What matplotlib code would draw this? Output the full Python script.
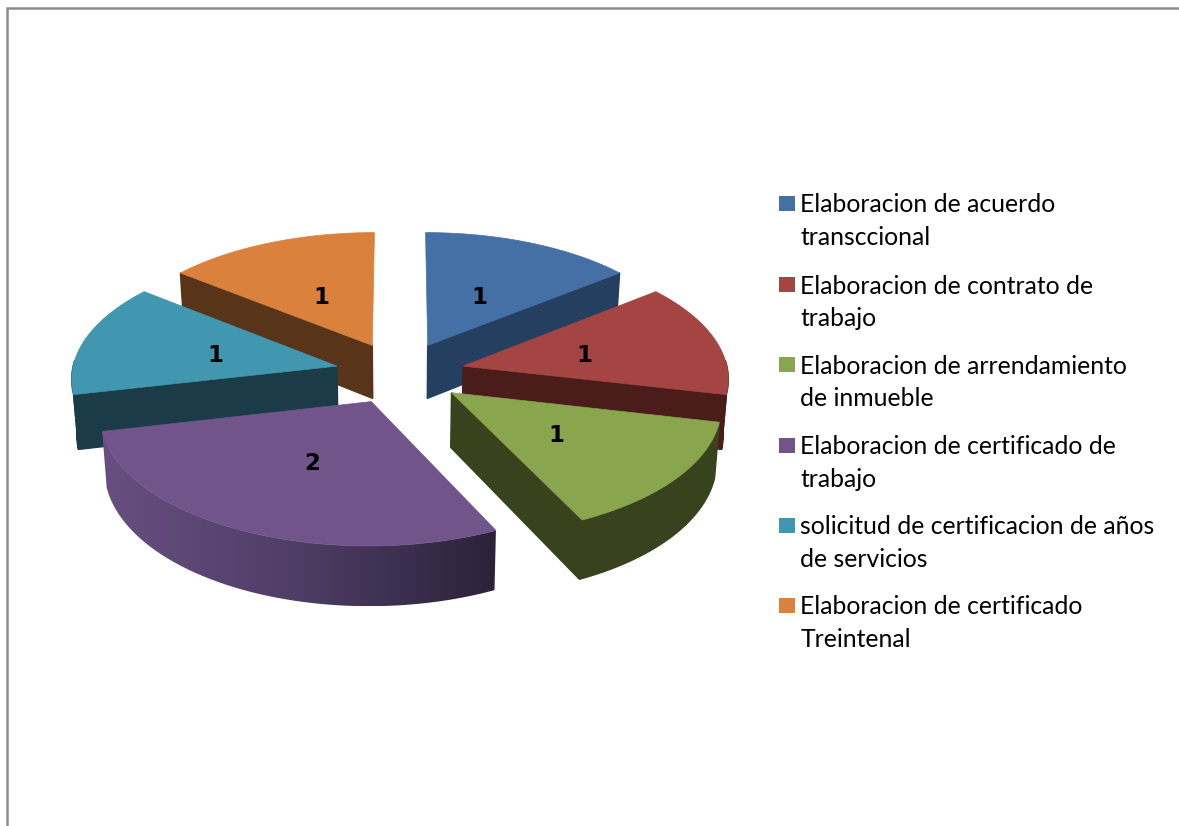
import numpy as np
import matplotlib
matplotlib.use("Agg")
import matplotlib.pyplot as plt
from matplotlib.colors import LinearSegmentedColormap
from matplotlib.patches import Polygon

categories = [
    "Elaboracion de acuerdo\ntransccional",
    "Elaboracion de contrato de\ntrabajo",
    "Elaboracion de arrendamiento\nde inmueble",
    "Elaboracion de certificado de\ntrabajo",
    "solicitud de certificacion de años\nde servicios",
    "Elaboracion de certificado\nTreintenal",
]
values = [1, 1, 1, 2, 1, 1]
top_colors = ["#4470A5", "#A54543", "#89A54E", "#71558A", "#4197AF", "#D9813D"]
side_colors = ["#243F5F", "#4A1C1A", "#38431D", "#3F3056", "#1A3B47", "#583418"]
cut_faces = ["end", "end", "end", None, "start", "start"]
rim_gradient = {3: ["#684F80", "#4E3D66", "#2C2239"]}
draw_order = [0, 5, 1, 4, 2, 3]

W, H = 1179, 826
CX, CY = 400, 373
R, EXPLODE, TILT, PERSP, DEPTH, SHRINK = 265, 65, 0.479, 0.085, 54, 0.985

fig = plt.figure(figsize=(W / 100, H / 100), dpi=100, facecolor="white")
ax = fig.add_axes([0, 0, 1, 1])


def project(r, theta, mid, bottom=False):
    X = r * np.sin(theta) + EXPLODE * np.sin(mid)
    Z = r * np.cos(theta) + EXPLODE * np.cos(mid)
    s = 1 / (1 + PERSP * Z / R)
    x = X * s * (SHRINK if bottom else 1)
    y = -TILT * Z * s + (DEPTH * s if bottom else 0)
    return CX + x, CY + y


edges = np.concatenate([[0], np.cumsum(values)]) / np.sum(values) * 2 * np.pi

for i in draw_order:
    a0, a1 = edges[i], edges[i + 1]
    mid = (a0 + a1) / 2
    th = np.linspace(a0, a1, 120)
    front = th[np.cos(th) < 0.05]
    # outer rim
    if len(front) > 1:
        xt, yt = project(R, front, mid)
        xb, yb = project(R, front, mid, True)
        px, py = np.r_[xt, xb[::-1]], np.r_[yt, yb[::-1]]
        if i in rim_gradient:
            cmap = LinearSegmentedColormap.from_list("rim", rim_gradient[i])
            grad = np.linspace(0, 1, 256).reshape(1, -1)
            im = ax.imshow(grad, cmap=cmap, aspect="auto", zorder=1,
                           extent=[px.min(), px.max(), py.max(), py.min()])
            clip = Polygon(np.c_[px, py], closed=True, transform=ax.transData,
                           fc="none", ec="none")
            ax.add_patch(clip)
            im.set_clip_path(clip)
        else:
            ax.fill(px, py, color=side_colors[i], lw=1.0, zorder=1)
    # cut face
    if cut_faces[i]:
        t = a1 if cut_faces[i] == "end" else a0
        p = [project(0, t, mid), project(R, t, mid),
             project(R, t, mid, True), project(0, t, mid, True)]
        ax.fill([q[0] for q in p], [q[1] for q in p], color=side_colors[i], lw=1.0, zorder=1)
    # top surface
    xs, ys = project(R, th, mid)
    ax0, ay0 = project(0, a0, mid)
    ax.fill(np.r_[ax0, xs], np.r_[ay0, ys], color=top_colors[i], lw=0.5, zorder=1)
    # data label
    lx, ly = project(R * 0.48, mid, mid)
    ax.text(lx, ly + 3, str(values[i]), ha="center", va="center", fontsize=16.5,
            fontweight="bold", family="DejaVu Sans", color="black", zorder=3)

# legend
line_y = [203, 284, 364, 445, 525, 605]
for i, cat in enumerate(categories):
    ax.fill([779, 795, 795, 779], [line_y[i] - 7.5, line_y[i] - 7.5, line_y[i] + 7.5, line_y[i] + 7.5],
            color=top_colors[i], lw=0)
    for k, ln in enumerate(cat.split("\n")):
        ax.text(800.5, line_y[i] + 32.5 * k, ln, ha="left", va="center_baseline", fontsize=17.85,
                family="Lato", color="black")

# frame
ax.plot([7, 7, W], [H, 8, 8], color="#8C8C8C", lw=1.8, solid_joinstyle="miter", zorder=0)

ax.set_xlim(0, W)
ax.set_ylim(H, 0)
ax.axis("off")

fig.savefig("out.png", dpi=100)
